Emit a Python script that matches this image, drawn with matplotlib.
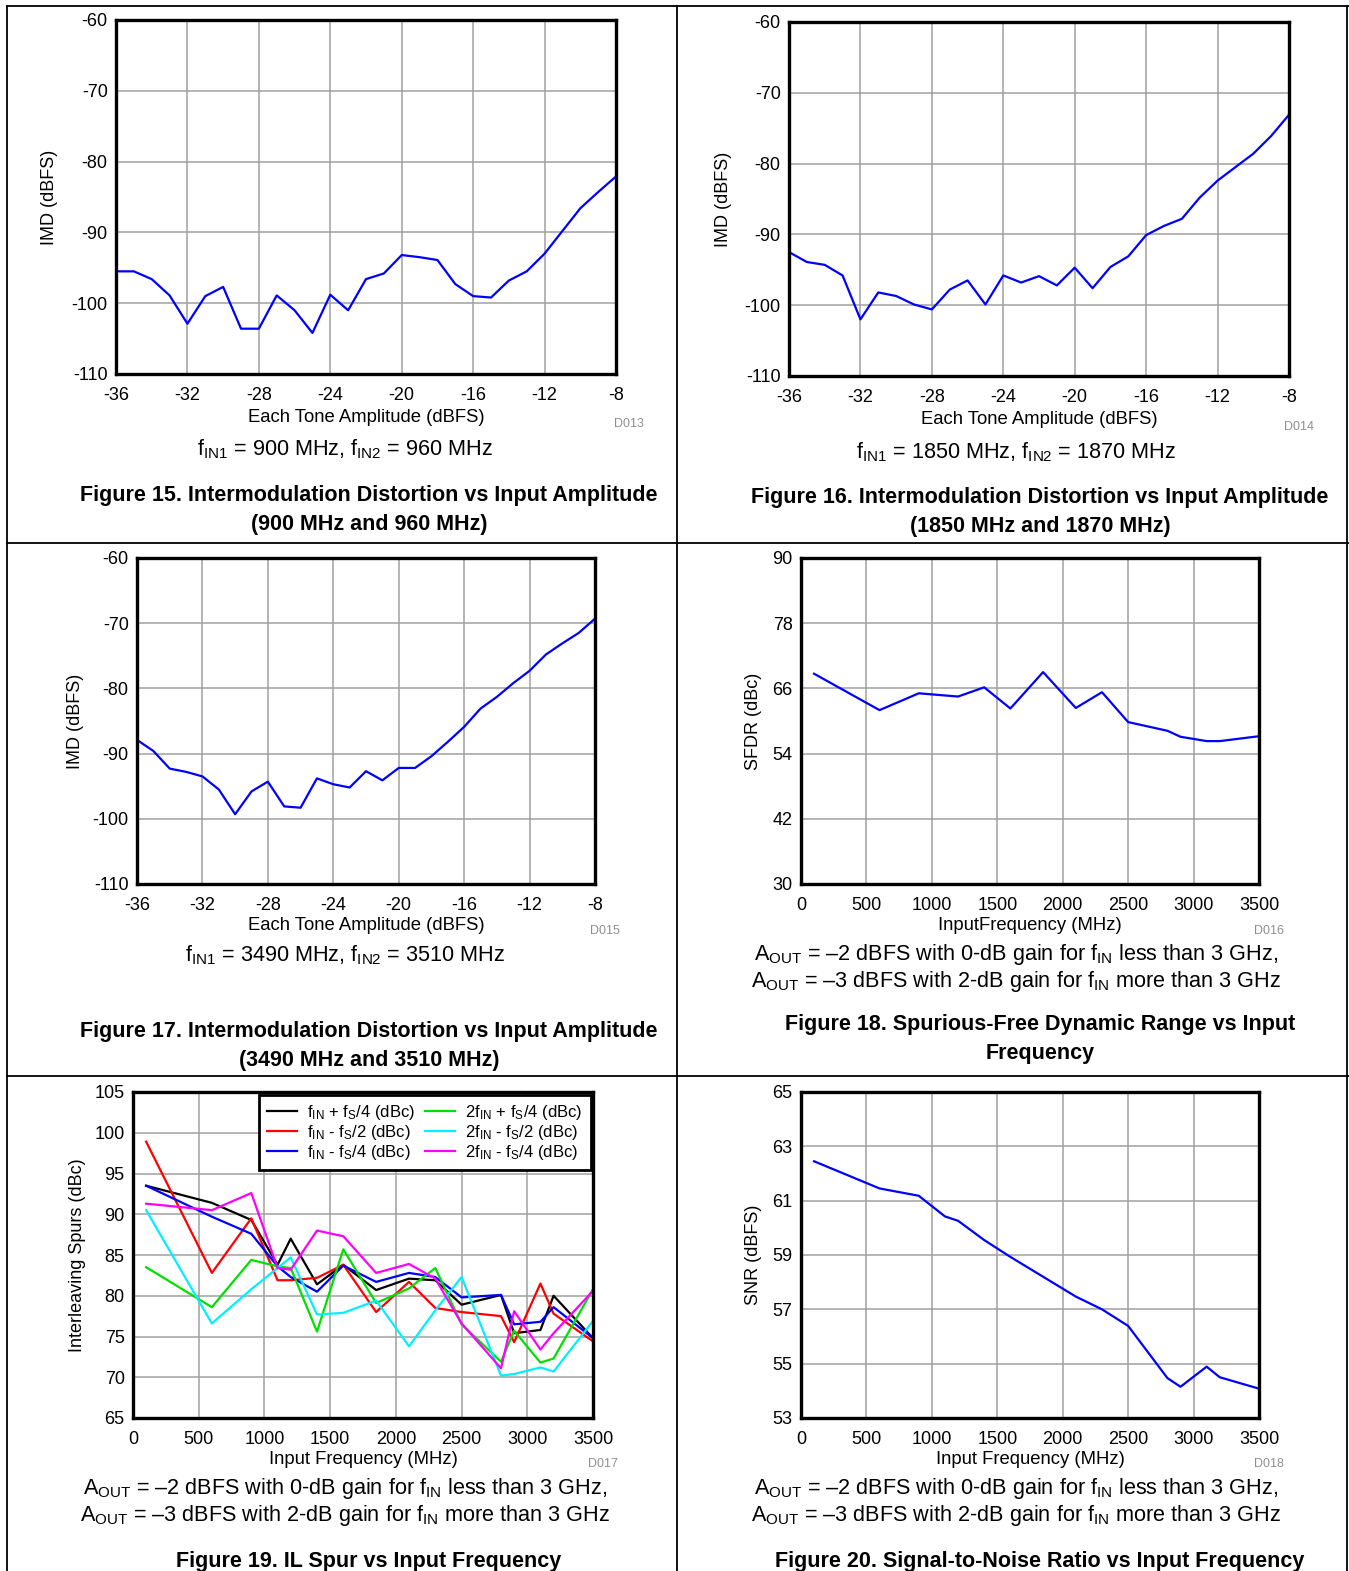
import numpy as np
import matplotlib
matplotlib.use('Agg')
import matplotlib.pyplot as plt

plt.rcParams['font.family'] = ['Liberation Sans', 'DejaVu Sans']
plt.rcParams['mathtext.fontset'] = 'custom'
plt.rcParams['mathtext.rm'] = 'Liberation Sans'
plt.rcParams['mathtext.it'] = 'Liberation Sans:italic'
plt.rcParams['mathtext.bf'] = 'Liberation Sans:bold'
plt.rcParams['axes.unicode_minus'] = False

## -- data
amp = list(range(-36, -7))

imd_900 = [-95.5, -95.5, -96.6, -98.9, -102.9, -99.0, -97.7, -103.6, -103.6, -98.9,
           -101.0, -104.2, -98.8, -101.0, -96.6, -95.8, -93.2, -93.5, -93.9, -97.3,
           -99.0, -99.2, -96.8, -95.5, -93.0, -89.8, -86.6, -84.3, -82.1]
imd_1850 = [-92.5, -93.9, -94.3, -95.8, -102.0, -98.2, -98.7, -99.9, -100.6, -97.8,
            -96.5, -99.9, -95.8, -96.8, -95.9, -97.2, -94.7, -97.6, -94.6, -93.1,
            -90.1, -88.8, -87.8, -84.8, -82.4, -80.5, -78.6, -76.1, -73.1]
imd_3490 = [-87.9, -89.6, -92.3, -92.8, -93.5, -95.5, -99.3, -95.8, -94.3, -98.1,
            -98.3, -93.8, -94.7, -95.2, -92.7, -94.1, -92.2, -92.2, -90.4, -88.2,
            -85.9, -83.1, -81.3, -79.2, -77.3, -74.8, -73.1, -71.5, -69.3]

sfdr_freq = [100, 600, 900, 1200, 1400, 1600, 1850, 2100, 2300, 2500, 2800, 2900, 3100, 3200, 3500]
sfdr = [68.7, 62.0, 65.1, 64.5, 66.2, 62.3, 69.0, 62.4, 65.3, 59.8, 58.2, 57.1, 56.3, 56.3, 57.2]

spur_freq = [100, 600, 900, 1100, 1200, 1400, 1600, 1850, 2100, 2300, 2500, 2800, 2900, 3100, 3200, 3500]
spur_fin_p_fs4 = [93.5, 91.4, 89.3, 83.8, 87.0, 81.4, 83.8, 80.7, 82.1, 81.9, 78.9, 80.1, 75.4, 75.8, 80.0, 74.8]
spur_fin_m_fs2 = [98.9, 82.8, 89.5, 81.9, 81.9, 82.2, 83.8, 78.0, 81.7, 78.5, 78.0, 77.5, 74.3, 81.5, 77.8, 74.4]
spur_fin_m_fs4 = [93.5, 89.7, 87.6, 83.6, 82.3, 80.5, 83.7, 81.7, 82.8, 82.3, 79.8, 80.1, 76.5, 76.8, 78.6, 74.8]
spur_2fin_p_fs4 = [83.5, 78.6, 84.4, 83.6, 83.4, 75.6, 85.7, 79.1, 80.9, 83.4, 76.5, 71.9, 75.7, 71.8, 72.3, 80.8]
spur_2fin_m_fs2 = [90.5, 76.6, 80.8, 83.4, 84.7, 77.7, 77.9, 79.4, 73.8, 78.2, 82.3, 70.2, 70.4, 71.2, 70.7, 76.9]
spur_2fin_m_fs4 = [91.3, 90.5, 92.6, 83.4, 83.2, 88.0, 87.3, 82.8, 83.9, 82.1, 76.6, 71.1, 78.1, 73.4, 75.4, 80.6]

snr_freq = [100, 600, 900, 1100, 1200, 1400, 1600, 1850, 2100, 2300, 2500, 2800, 2900, 3100, 3200, 3500]
snr = [62.45, 61.45, 61.18, 60.42, 60.26, 59.55, 58.93, 58.2, 57.47, 57.0, 56.39, 54.47, 54.15, 54.89, 54.5, 54.08]

spur_labels = [r'f$_{\mathrm{IN}}$ + f$_{\mathrm{S}}$/4 (dBc)',
               r'f$_{\mathrm{IN}}$ - f$_{\mathrm{S}}$/2 (dBc)',
               r'f$_{\mathrm{IN}}$ - f$_{\mathrm{S}}$/4 (dBc)',
               r'2f$_{\mathrm{IN}}$ + f$_{\mathrm{S}}$/4 (dBc)',
               r'2f$_{\mathrm{IN}}$ - f$_{\mathrm{S}}$/2 (dBc)',
               r'2f$_{\mathrm{IN}}$ - f$_{\mathrm{S}}$/4 (dBc)']
spur_colors = ['black', '#ff0000', '#0000ff', '#00e000', '#00f0ff', '#ff00ff']

aout_txt = (r'A$_{\mathrm{OUT}}$ = –2 dBFS with 0-dB gain for f$_{\mathrm{IN}}$ less than 3 GHz,' + '\n' +
            r'A$_{\mathrm{OUT}}$ = –3 dBFS with 2-dB gain for f$_{\mathrm{IN}}$ more than 3 GHz')

W, H = 1349, 1571
fig = plt.figure(figsize=(W / 100.0, H / 100.0), dpi=100)


def px(x, y):
	return x / W, 1 - y / H


def make_axes(l, t, r, b, xlim, ylim, xticks, yticks, xlabel, ylabel, xlab_y, ylab_x):
	ax = fig.add_axes([l / W, 1 - b / H, (r - l) / W, (b - t) / H])
	ax.set_xlim(xlim)
	ax.set_ylim(ylim)
	ax.set_xticks(xticks)
	ax.set_yticks(yticks)
	ax.grid(True, color='#a0a0a0', linewidth=1.1)
	ax.set_axisbelow(True)
	for s in ax.spines.values():
		s.set_linewidth(2.4)
		s.set_zorder(5)
	ax.tick_params(length=0, labelsize=13)
	ax.tick_params(axis='x', pad=9)
	ax.tick_params(axis='y', pad=6)
	ax.set_xlabel(xlabel, fontsize=13.3, va='center')
	ax.xaxis.set_label_coords(0.5, -(xlab_y - b) / (b - t))
	ax.set_ylabel(ylabel, fontsize=13, va='center')
	ax.yaxis.set_label_coords(-(l - ylab_x) / (r - l), 0.5)
	return ax


amp_ticks = [-36, -32, -28, -24, -20, -16, -12, -8]
imd_ticks = [-110, -100, -90, -80, -70, -60]
freq_ticks = [0, 500, 1000, 1500, 2000, 2500, 3000, 3500]

# Figure 15
ax1 = make_axes(116, 20, 616, 374, (-36, -8), (-110, -60), amp_ticks, imd_ticks,
                'Each Tone Amplitude (dBFS)', 'IMD (dBFS)', 418, 50)
ax1.plot(amp, imd_900, color='#0000ff', linewidth=1.6)

# Figure 16
ax2 = make_axes(789, 22, 1289, 376, (-36, -8), (-110, -60), amp_ticks, imd_ticks,
                'Each Tone Amplitude (dBFS)', 'IMD (dBFS)', 420, 723)
ax2.plot(amp, imd_1850, color='#0000ff', linewidth=1.6)

# Figure 17
ax3 = make_axes(137, 558, 595, 884, (-36, -8), (-110, -60), amp_ticks, imd_ticks,
                'Each Tone Amplitude (dBFS)', 'IMD (dBFS)', 926, 76)
ax3.plot(amp, imd_3490, color='#0000ff', linewidth=1.6)

# Figure 18
ax4 = make_axes(801, 558, 1259, 884, (0, 3500), (30, 90), freq_ticks, [30, 42, 54, 66, 78, 90],
                'InputFrequency (MHz)', 'SFDR (dBc)', 926, 754)
ax4.plot(sfdr_freq, sfdr, color='#0000ff', linewidth=1.6)

# Figure 19
ax5 = make_axes(133, 1092, 593, 1418, (0, 3500), (65, 105), freq_ticks, list(range(65, 106, 5)),
                'Input Frequency (MHz)', 'Interleaving Spurs (dBc)', 1460, 78)
for ys, lab, c in zip([spur_fin_p_fs4, spur_fin_m_fs2, spur_fin_m_fs4,
                       spur_2fin_p_fs4, spur_2fin_m_fs2, spur_2fin_m_fs4], spur_labels, spur_colors):
	ax5.plot(spur_freq, ys, color=c, linewidth=1.6, label=lab)
leg = ax5.legend(loc='upper right', bbox_to_anchor=(1.0, 1.0), ncol=2, fontsize=12,
                 fancybox=False, framealpha=1, edgecolor='black', borderaxespad=0.15,
                 handlelength=1.8, handletextpad=0.6, columnspacing=0.6, labelspacing=0.05,
                 borderpad=0.5)
leg.get_frame().set_linewidth(2.0)
leg.set_zorder(6)

# Figure 20
ax6 = make_axes(801, 1092, 1259, 1418, (0, 3500), (53, 65), freq_ticks, list(range(53, 66, 2)),
                'Input Frequency (MHz)', 'SNR (dBFS)', 1460, 754)
ax6.plot(snr_freq, snr, color='#0000ff', linewidth=1.6)

## -- graph ids
for x, y, s in [(629, 424, 'D013'), (1299, 427, 'D014'), (605, 931, 'D015'),
                (1269, 931, 'D016'), (603, 1464, 'D017'), (1269, 1464, 'D018')]:
	fig.text(*px(x, y), s, fontsize=9, color='#909090', ha='center', va='center')

## -- conditions
cond_size = 15.6
fig.text(*px(345, 449), r'f$_{\mathrm{IN1}}$ = 900 MHz, f$_{\mathrm{IN2}}$ = 960 MHz',
         fontsize=cond_size, ha='center', va='center')
fig.text(*px(1016, 452), r'f$_{\mathrm{IN1}}$ = 1850 MHz, f$_{\mathrm{IN2}}$ = 1870 MHz',
         fontsize=cond_size, ha='center', va='center')
fig.text(*px(345, 955), r'f$_{\mathrm{IN1}}$ = 3490 MHz, f$_{\mathrm{IN2}}$ = 3510 MHz',
         fontsize=cond_size, ha='center', va='center')
for x, y in [(1016, 968), (345, 1502), (1016, 1502)]:
	fig.text(*px(x, y), aout_txt, fontsize=cond_size, ha='center', va='center',
	         multialignment='center', linespacing=1.1)

## -- captions
cap_size = 15.5
captions = [(369, 510, 'Figure 15. Intermodulation Distortion vs Input Amplitude\n(900 MHz and 960 MHz)'),
            (1040, 512, 'Figure 16. Intermodulation Distortion vs Input Amplitude\n(1850 MHz and 1870 MHz)'),
            (369, 1046, 'Figure 17. Intermodulation Distortion vs Input Amplitude\n(3490 MHz and 3510 MHz)'),
            (1040, 1039, 'Figure 18. Spurious-Free Dynamic Range vs Input\nFrequency'),
            (369, 1561, 'Figure 19. IL Spur vs Input Frequency'),
            (1040, 1561, 'Figure 20. Signal-to-Noise Ratio vs Input Frequency')]
for x, y, s in captions:
	fig.text(*px(x, y), s, fontsize=cap_size, fontweight='bold', ha='center', va='center',
	         multialignment='center', linespacing=1.45)

## -- table rules
lw = 1.3
fig.add_artist(plt.Line2D([px(7, 0)[0], 1], [px(0, 6)[1]] * 2, color='black', linewidth=lw))
for yy in [543, 1076]:
	fig.add_artist(plt.Line2D([px(7, 0)[0], 1], [px(0, yy)[1]] * 2, color='black', linewidth=lw))
for xx in [7, 677, 1347]:
	fig.add_artist(plt.Line2D([px(xx, 0)[0]] * 2, [0, px(0, 6)[1]], color='black', linewidth=lw))

fig.savefig('out.png', dpi=100)
